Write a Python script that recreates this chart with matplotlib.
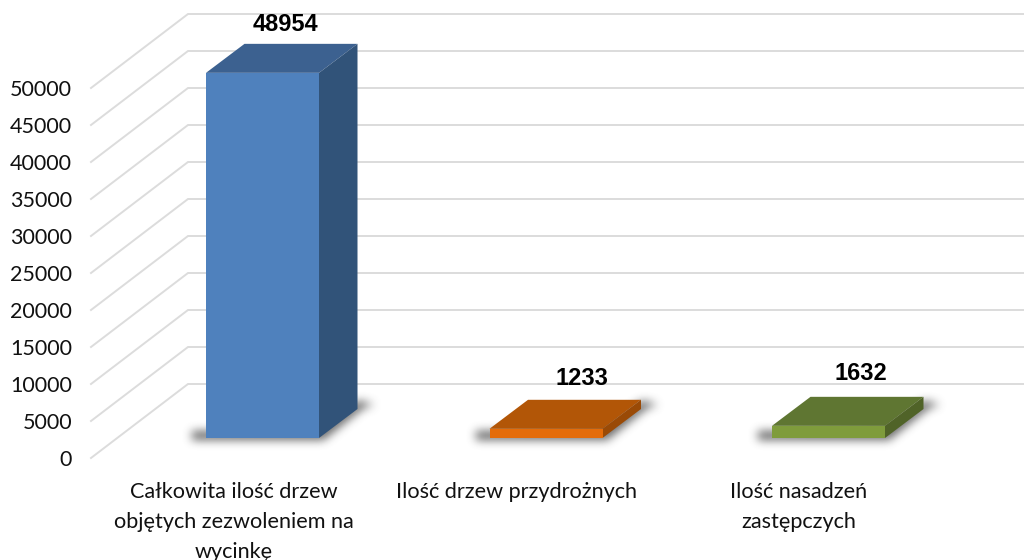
import matplotlib
matplotlib.use("Agg")
import matplotlib.pyplot as plt
import numpy as np
from matplotlib.patches import Polygon
from matplotlib.path import Path

categories = ["Całkowita ilość drzew\nobjętych zezwoleniem na\nwycinkę",
              "Ilość drzew przydrożnych",
              "Ilość nasadzeń\nzastępczych"]
values = [48954, 1233, 1632]
yticks = [0, 5000, 10000, 15000, 20000, 25000, 30000, 35000, 40000, 45000, 50000]

front_colors = ["#4f81bd", "#e46c0a", "#7f9c3c"]
top_colors = ["#3c6190", "#b25607", "#5f7632"]
side_colors = ["#315379", "#9a4a06", "#506328"]

W, H = 1024, 560
AX_LEFT, AX_BOTTOM = 91, 458      # pixels
PX_PER_VAL = 370 / 50000          # vertical scale
PX_PER_CAT = 282.5
CAT0_PX = 234
WALL_DX, WALL_DY = 97, 74         # depth of the side wall, pixels
BAR_DX, BAR_DY = 38.5, 29         # depth of a bar, pixels
BAR_W = 113
BAR_SHIFT = [28.5, 29.5, 29.5]    # bar centre vs. tick label centre
BAR_BASE = 20                     # bar floor above the front axis, pixels
BAR_STRETCH = 1.008
LABEL_SHIFT = [51.7, 65.5, 62]
LABEL_RAISE = [48, 50.5, 52]

plt.rcParams["font.family"] = ["Lato", "DejaVu Sans"]

fig = plt.figure(figsize=(W / 100, H / 100), dpi=100)
ax = fig.add_axes([AX_LEFT / W, 1 - AX_BOTTOM / H, 1 - AX_LEFT / W, AX_BOTTOM / H])
xmin, xmax = -(CAT0_PX - AX_LEFT) / PX_PER_CAT, (W - CAT0_PX) / PX_PER_CAT
ymax = AX_BOTTOM / PX_PER_VAL


def dx(px):
    return px / PX_PER_CAT


def dy(px):
    return px / PX_PER_VAL


def blur(a, n=9, iters=3):
    # repeated box filter, close enough to a gaussian
    k = np.ones(n) / n
    for _ in range(iters):
        a = np.apply_along_axis(lambda r: np.convolve(r, k, mode="same"), 0, a)
        a = np.apply_along_axis(lambda r: np.convolve(r, k, mode="same"), 1, a)
    return a


def draw_shadow(x0, x1, y0):
    # outline in pixels around the bar foot, x from left edge, y up from the floor
    bw = (x1 - x0) * PX_PER_CAT
    outline = [(-14, -3), (bw + 3, -3), (bw + 43, 29), (bw + 54, 33),
               (bw + 39, 37), (bw, 12), (-14, 6)]
    pad = 30
    gx, gy = np.meshgrid(np.arange(-pad, bw + 60 + pad), np.arange(-pad, 40 + pad))
    pts = np.column_stack([gx.ravel(), gy.ravel()])
    mask = Path(outline).contains_points(pts).reshape(gx.shape).astype(float)
    rgba = np.zeros(mask.shape + (4,))
    rgba[..., :3] = 0.3
    rgba[..., 3] = np.clip(blur(mask) * 0.85, 0, 1)
    ext = [x0 + dx(gx.min()), x0 + dx(gx.max() + 1), y0 + dy(gy.min()), y0 + dy(gy.max() + 1)]
    ax.imshow(rgba, origin="lower", extent=ext, aspect="auto", zorder=2, interpolation="bilinear")


# wall and back gridlines
for v in yticks:
    ax.plot([xmin, xmin + dx(WALL_DX), xmax], [v, v + dy(WALL_DY), v + dy(WALL_DY)],
            color="#dcdcdc", lw=1.4, zorder=1, clip_on=False, solid_joinstyle="miter")

for i, v in enumerate(values):
    x0 = i + dx(BAR_SHIFT[i] - BAR_W / 2)
    x1 = i + dx(BAR_SHIFT[i] + BAR_W / 2)
    y0 = dy(BAR_BASE)
    y1 = y0 + v * BAR_STRETCH
    ddx, ddy = dx(BAR_DX), dy(BAR_DY)

    draw_shadow(x0, x1, y0)

    ax.add_patch(Polygon([(x0, y1), (x1, y1), (x1 + ddx, y1 + ddy), (x0 + ddx, y1 + ddy)],
                         closed=True, fc=top_colors[i], ec="none", zorder=3, clip_on=False))
    ax.add_patch(Polygon([(x1, y0), (x1 + ddx, y0 + ddy), (x1 + ddx, y1 + ddy), (x1, y1)],
                         closed=True, fc=side_colors[i], ec="none", zorder=3, clip_on=False))
    ax.add_patch(Polygon([(x0, y0), (x1, y0), (x1, y1), (x0, y1)],
                         closed=True, fc=front_colors[i], ec="none", zorder=4, clip_on=False))

    ax.text(i + dx(LABEL_SHIFT[i]), y1 + dy(LABEL_RAISE[i]), str(v), ha="center", va="center",
            family=["Liberation Sans"], fontweight="bold", fontsize=17, color="black", zorder=5)

ax.set_xlim(xmin, xmax)
ax.set_ylim(0, ymax)
ax.set_yticks(yticks)
ax.set_xticks(range(len(categories)))
ax.set_xticklabels(categories, linespacing=1.6)
ax.tick_params(axis="y", length=0, pad=13.5, labelsize=15.5, labelcolor="#111111")
ax.tick_params(axis="x", length=0, pad=17.5, labelsize=15.6, labelcolor="#111111")
for s in ax.spines.values():
    s.set_visible(False)
ax.patch.set_alpha(0)

fig.savefig("out.png", dpi=100)
